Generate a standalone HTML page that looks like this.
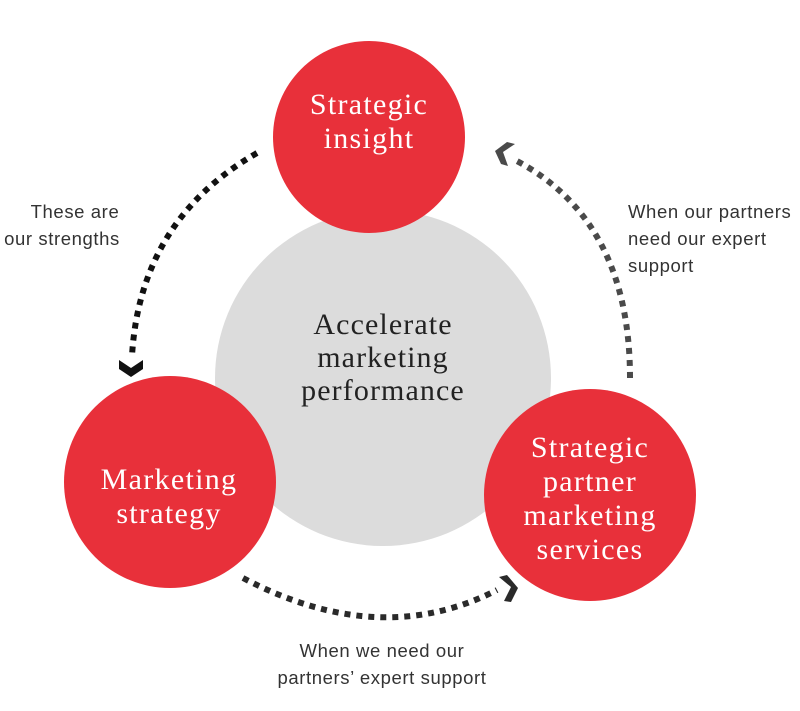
<!DOCTYPE html>
<html><head><style>
body{margin:0;background:#fff;}
svg{display:block;}
</style></head><body>
<svg width="800" height="711" viewBox="0 0 800 711" xmlns="http://www.w3.org/2000/svg">
<circle cx="383" cy="378" r="168" fill="#dcdcdc"/>
<circle cx="369" cy="137" r="96" fill="#e8303a"/>
<circle cx="170" cy="482" r="106" fill="#e8303a"/>
<circle cx="590" cy="495" r="106" fill="#e8303a"/>
<g fill="none" stroke-width="6" stroke-dasharray="6 6">
<path d="M257,153 Q140,220 132,356" stroke="#111"/>
<path d="M243,578 Q380,650 497,590" stroke="#2a2a2a"/>
<path d="M630,378 Q630,220 515,160" stroke="#4a4a4a"/>
</g>
<path d="M119,360 L131,368 L143,360 L143,369 L131,377 L119,369 Z" fill="#111"/>
<path d="M499,577 L511,587 L504,601 L511,602 L518,588 L507,575 Z" fill="#2a2a2a"/>
<path d="M515,144 L503,152 L508,166 L501,164 L495,151 L507,142 Z" fill="#4a4a4a"/>
<g font-family="'Liberation Serif',serif" fill="#fff" font-size="30" letter-spacing="1.3" text-anchor="middle">
<text x="369" y="114">Strategic</text><text x="369" y="148">insight</text>
<text x="169" y="489">Marketing</text><text x="169" y="523">strategy</text>
<text x="590" y="457">Strategic</text><text x="590" y="491">partner</text><text x="590" y="525">marketing</text><text x="590" y="559">services</text>
</g>
<g font-family="'Liberation Serif',serif" fill="#222" font-size="30" letter-spacing="1.1" text-anchor="middle">
<text x="383" y="334">Accelerate</text><text x="383" y="367">marketing</text><text x="383" y="400">performance</text>
</g>
<g font-family="'Liberation Sans',sans-serif" fill="#333" font-size="18.5" letter-spacing="0.6">
<text x="75" y="218" text-anchor="middle">These are</text><text x="62" y="245" text-anchor="middle">our strengths</text>
<text x="628" y="218">When our partners</text><text x="628" y="245">need our expert</text><text x="628" y="272">support</text>
<text x="382" y="657" text-anchor="middle">When we need our</text><text x="382" y="684" text-anchor="middle">partners’ expert support</text>
</g>
</svg>
</body></html>
